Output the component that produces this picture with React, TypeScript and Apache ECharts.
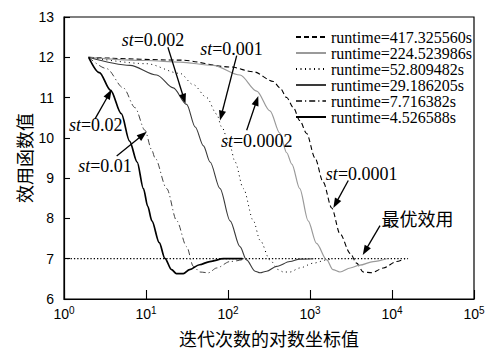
import React, { useEffect, useRef } from "react";
import * as echarts from "echarts";

// ---- data ----
const names = [
  "runtime=417.325560s",
  "runtime=224.523986s",
  "runtime=52.809482s",
  "runtime=29.186205s",
  "runtime=7.716382s",
  "runtime=4.526588s",
];

const x417 = [2, 26, 106, 204, 357, 430, 520, 627, 750, 910, 1150, 1450, 1840, 2320, 3100, 3700, 4470, 5650, 7850, 11400, 14300];
const y417 = [12, 11.93, 11.76, 11.64, 11.4, 11.24, 11.0, 10.75, 10.43, 10.11, 9.5, 8.9, 8.26, 7.62, 7.13, 6.89, 6.67, 6.65, 6.77, 6.93, 7.0];

const x224 = [2, 10.2, 26, 66, 140, 224, 325, 430, 520, 600, 750, 950, 1200, 1600, 1900, 2320, 3100, 4050, 5900, 8600];
const y224 = [12, 11.92, 11.88, 11.8, 11.56, 11.16, 10.67, 10.11, 9.63, 9.35, 8.74, 7.94, 7.38, 6.97, 6.73, 6.67, 6.77, 6.84, 6.93, 7.0];

const x52 = [2, 10.2, 26, 37.8, 55, 72.8, 83.7, 106, 122, 154, 204, 246, 325, 410, 473, 570, 750, 1100, 1600, 1900];
const y52 = [12, 11.84, 11.6, 11.32, 11.0, 10.59, 10.27, 9.79, 9.4, 8.74, 7.94, 7.46, 6.97, 6.73, 6.67, 6.67, 6.77, 6.89, 6.97, 7.0];

const x29 = [2, 6.4, 13.5, 21.5, 31.3, 39.8, 50.2, 60.4, 80, 106, 140, 168, 214, 246, 296, 392, 570, 750, 1100];
const y29 = [12, 11.8, 11.56, 11.24, 10.83, 10.27, 9.8, 9.4, 8.74, 7.94, 7.3, 6.97, 6.69, 6.65, 6.69, 6.81, 6.93, 6.99, 7.0];

const x7 = [2, 3.3, 5.3, 7.35, 9.7, 11.7, 12.9, 17.9, 23.7, 31.3, 37.8, 45.5, 57.6, 72.8, 106, 168];
const y7 = [12, 11.72, 11.24, 10.75, 10.19, 9.71, 9.5, 8.74, 7.94, 7.3, 6.81, 6.67, 6.65, 6.77, 6.93, 7.0];

const x4 = [2, 2.7, 3.7, 5.0, 6.3, 7.8, 9.3, 10.5, 11.8, 14.5, 17, 20.5, 23.5, 28.5, 34, 45, 60, 88, 150];
const y4 = [12, 11.62, 11.18, 10.6, 9.92, 9.4, 8.74, 8.3, 7.94, 7.4, 7.01, 6.73, 6.63, 6.63, 6.73, 6.85, 6.93, 7.0, 7.0];

const xOpt = [1, 15700];
const yOpt = [7, 7];

const yTicks = { min: 6, max: 13, interval: 1 };

// annotations: label text position (tx,ty) and arrow from (fx,fy) to (ax,ay), data coords
const stLabels = ["0.002", "0.001", "0.02", "0.01", "0.0002", "0.0001"];
const stTx = [12.17, 110.3, 2.44, 3.16, 224, 4270];
const stTy = [12.43, 12.2, 10.31, 9.31, 9.93, 9.11];
const stFx = [18.5, 127.7, 2.39, 4.39, 169, 2930];
const stFy = [12.25, 12.04, 10.47, 9.55, 10.19, 8.94];
const stAx = [30.3, 79.9, 3.81, 10.2, 234, 1925];
const stAy = [10.85, 10.43, 11.2, 10.15, 11.04, 8.26];

const optLabel = { text: "最优效用", tx: 20470, ty: 8.02, fx: 7140, fy: 7.82, ax: 4395, ay: 7.09 };

const zip = (xs: number[], ys: number[]) => xs.map((x, i) => [x, ys[i]]);

const serif = "Liberation Serif";
const sans = "Liberation Sans";
const cjk = "Noto Sans CJK SC";

export default function App() {
  const ref = useRef<HTMLDivElement>(null);
  useEffect(() => {
    if (!ref.current) return;
    const chart = echarts.init(ref.current, null, { renderer: "svg" });
    const styles = [
      { color: "#000", width: 1.1, type: [5, 3] },
      { color: "#9a9a9a", width: 1.2, type: "solid" },
      { color: "#000", width: 1, type: [1, 3.5] },
      { color: "#3a3a3a", width: 1.1, type: "solid" },
      { color: "#444", width: 1, type: [6, 3, 1.2, 3] },
      { color: "#000", width: 1.7, type: "solid" },
    ];
    const datasets = [zip(x417, y417), zip(x224, y224), zip(x52, y52), zip(x29, y29), zip(x7, y7), zip(x4, y4)];
    const series: any[] = datasets.map((d, i) => ({
      name: names[i],
      type: "line",
      data: d,
      symbol: "none",
      showSymbol: false,
      smooth: 0.3,
      smoothMonotone: "x",
      lineStyle: { color: styles[i].color, width: styles[i].width, type: styles[i].type },
      itemStyle: { color: styles[i].color },
      z: 3,
    }));
    series.push({
      name: "optimal",
      type: "line",
      data: zip(xOpt, yOpt),
      symbol: "none",
      lineStyle: { color: "#000", width: 1.2, type: [1.3, 2] },
      z: 2,
    });

    chart.setOption({
      animation: false,
      backgroundColor: "#fff",
      grid: { left: 64, right: 21, top: 17, bottom: 45, show: true, borderColor: "#000", borderWidth: 1.2, backgroundColor: "transparent" },
      legend: {
        data: names,
        orient: "vertical",
        left: 295,
        top: 29,
        itemWidth: 30,
        itemHeight: 8,
        itemGap: 0,
        padding: 0,
        itemStyle: { color: "transparent", borderWidth: 0, opacity: 0 },
        textStyle: { fontFamily: serif, fontSize: 16, lineHeight: 11.7, color: "#000" },
      },
      xAxis: {
        type: "log",
        logBase: 10,
        min: 1,
        max: 100000,
        name: "迭代次数的对数坐标值",
        nameLocation: "middle",
        nameGap: 30,
        nameTextStyle: { fontFamily: cjk, fontSize: 18, color: "#000" },
        axisLine: { lineStyle: { color: "#000", width: 1.2 } },
        axisTick: { inside: true, length: 9, lineStyle: { color: "#000", width: 1.1 } },
        minorTick: { show: false },
        splitLine: { show: false },
        axisLabel: {
          margin: 6,
          color: "#000",
          formatter: (v: number) => "{b|10}{s|" + Math.round(Math.log10(v)) + "}",
          rich: {
            b: { fontFamily: sans, fontSize: 14, lineHeight: 16, verticalAlign: "bottom", color: "#000" },
            s: { fontFamily: sans, fontSize: 10, lineHeight: 10, verticalAlign: "top", color: "#000" },
          },
        },
      },
      yAxis: {
        type: "value",
        min: yTicks.min,
        max: yTicks.max,
        interval: yTicks.interval,
        name: "效用函数值",
        nameLocation: "middle",
        nameGap: 31,
        nameMoveOverlap: false,
        nameTextStyle: { fontFamily: cjk, fontSize: 18, color: "#000" },
        axisLine: { show: true, lineStyle: { color: "#000", width: 1.2 } },
        axisTick: { inside: true, length: 6, lineStyle: { color: "#000", width: 1.1 } },
        splitLine: { show: false },
        axisLabel: { margin: 10, fontFamily: sans, fontSize: 14, color: "#000" },
      },
      series,
    });

    const px = (x: number, y: number) => chart.convertToPixel({ gridIndex: 0 }, [x, y]) as number[];
    const arrow = (fx: number, fy: number, ax: number, ay: number) => {
      const p0 = px(fx, fy);
      const p1 = px(ax, ay);
      const dx = p1[0] - p0[0];
      const dy = p1[1] - p0[1];
      const len = Math.sqrt(dx * dx + dy * dy);
      const ux = dx / len;
      const uy = dy / len;
      const L = 10;
      const W = 3.6;
      const bx = p1[0] - ux * L;
      const by = p1[1] - uy * L;
      return [
        { type: "line", shape: { x1: p0[0], y1: p0[1], x2: bx + ux * 2, y2: by + uy * 2 }, style: { stroke: "#000", lineWidth: 1.3 }, z: 10 },
        {
          type: "polygon",
          shape: { points: [[p1[0], p1[1]], [bx - uy * W, by + ux * W], [bx + uy * W, by - ux * W]] },
          style: { fill: "#000" },
          z: 10,
        },
      ];
    };
    const graphics: any[] = [];
    stLabels.forEach((lab, i) => {
      const t = px(stTx[i], stTy[i]);
      graphics.push({
        type: "text",
        x: t[0],
        y: t[1],
        z: 10,
        style: {
          text: "{i|st}{n|=" + lab + "}",
          align: "center",
          verticalAlign: "middle",
          rich: {
            i: { fontFamily: serif, fontSize: 18, fontStyle: "italic", fill: "#000" },
            n: { fontFamily: serif, fontSize: 18, fill: "#000" },
          },
        },
      });
      graphics.push(...arrow(stFx[i], stFy[i], stAx[i], stAy[i]));
    });
    const ot = px(optLabel.tx, optLabel.ty);
    graphics.push({
      type: "text",
      x: ot[0],
      y: ot[1],
      z: 10,
      style: { text: optLabel.text, align: "center", verticalAlign: "middle", fontFamily: cjk, fontSize: 18, fill: "#000" },
    });
    graphics.push(...arrow(optLabel.fx, optLabel.fy, optLabel.ax, optLabel.ay));
    chart.setOption({ graphic: graphics });

    return () => chart.dispose();
  }, []);
  return <div ref={ref} style={{ position: "fixed", left: 0, top: 0, width: 495, height: 352 }} />;
}
